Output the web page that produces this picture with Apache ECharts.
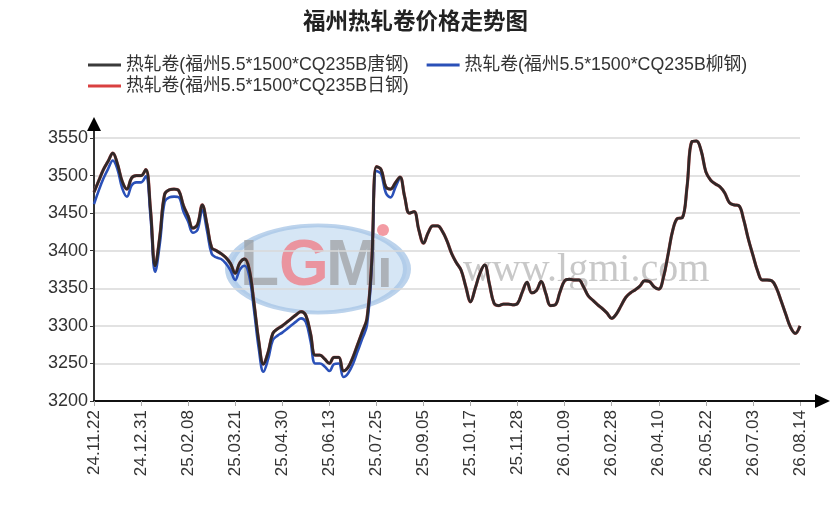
<!DOCTYPE html>
<html>
<head>
<meta charset="utf-8">
<title>福州热轧卷价格走势图</title>
<script src="https://cdn.jsdelivr.net/npm/echarts@6/dist/echarts.min.js"></script>
<style>
  html, body { margin: 0; padding: 0; background: #fff; }
  #main { width: 831px; height: 513px; }
</style>
</head>
<body>
<div id="main"></div>
<script>
// label dates on the x axis (one every 10 points)
const tickDates = ['24.11.22', '24.12.31', '25.02.08', '25.03.21', '25.04.30', '25.06.13', '25.07.25', '25.09.05',
  '25.10.17', '25.11.28', '26.01.09', '26.02.28', '26.04.10', '26.05.22', '26.07.03', '26.08.14'];
const stepsPerTick = 10;

// 热轧卷 唐钢 (black)
const tangSteel = [
  3478, 3493, 3508, 3519, 3530, 3515, 3492, 3482, 3497, 3500,
  3500, 3508, 3455, 3380, 3420, 3475, 3481, 3482, 3480, 3460,
  3446, 3430, 3435, 3461, 3435, 3404, 3400, 3396, 3391, 3383,
  3370, 3384, 3389, 3375, 3330, 3280, 3249, 3265, 3290, 3296,
  3300, 3305, 3310, 3315, 3319, 3314, 3290, 3261, 3261, 3256,
  3250, 3258, 3258, 3240, 3245, 3258, 3275, 3292, 3310, 3385,
  3512, 3508, 3485, 3482, 3490, 3498, 3472, 3450, 3452, 3428,
  3410, 3424, 3433, 3433, 3426, 3413, 3396, 3384, 3374, 3352,
  3332, 3350, 3370, 3381, 3356, 3330, 3327, 3329, 3329, 3328,
  3330, 3345, 3358, 3344, 3347, 3359, 3343, 3327, 3328, 3345,
  3360, 3362, 3361, 3361, 3352, 3340, 3334, 3328, 3323, 3317,
  3310, 3316, 3327, 3338, 3344, 3348, 3353, 3360, 3359, 3352,
  3349, 3365, 3396, 3428, 3443, 3444, 3485, 3545, 3546, 3533,
  3505, 3494, 3489, 3485, 3477, 3464, 3461, 3460, 3442, 3416,
  3394, 3373, 3361, 3361, 3360, 3350, 3333, 3315, 3298, 3290, 3300
];

// 热轧卷 柳钢 (blue), only visible until Aug 2025
const liuSteel = [
  3462, 3480, 3496, 3509, 3520, 3508, 3483, 3472, 3487, 3491,
  3491, 3499, 3446, 3372, 3410, 3465, 3471, 3472, 3471, 3452,
  3439, 3424, 3428, 3454, 3427, 3396, 3391, 3389, 3383, 3374,
  3361, 3375, 3380, 3366, 3321, 3270, 3239, 3256, 3281, 3287,
  3291, 3296, 3301, 3306, 3310, 3305, 3280, 3250, 3250, 3246,
  3240, 3249, 3250, 3232, 3237, 3249, 3266, 3283, 3301, 3378,
  3506, 3502, 3477, 3471, 3484, 3498
];

// 热轧卷 日钢 (red) sits right under the black line in the picture
const riSteel = tangSteel.slice();

const seriesNames = ['热轧卷(福州5.5*1500*CQ235B唐钢)', '热轧卷(福州5.5*1500*CQ235B柳钢)', '热轧卷(福州5.5*1500*CQ235B日钢)'];

// build the category list: label dates plus the days in between
function toDate(s) {
  var p = s.split('.');
  return new Date(2000 + (+p[0]), (+p[1]) - 1, +p[2]);
}
function fmt(d) {
  var y = String(d.getFullYear() % 100), m = String(d.getMonth() + 1), dd = String(d.getDate());
  return y + '.' + (m.length < 2 ? '0' + m : m) + '.' + (dd.length < 2 ? '0' + dd : dd);
}
var categories = [];
for (var i = 0; i < tickDates.length - 1; i++) {
  var a = toDate(tickDates[i]), b = toDate(tickDates[i + 1]);
  var span = (b - a) / 86400000;
  categories.push(tickDates[i]);
  for (var k = 1; k < stepsPerTick; k++) {
    var d = new Date(a.getTime());
    d.setDate(d.getDate() + Math.round(span * k / stepsPerTick));
    categories.push(fmt(d));
  }
}
categories.push(tickDates[tickDates.length - 1]);

var chart = echarts.init(document.getElementById('main'));
var latin = "'Liberation Sans', 'Noto Sans CJK SC', sans-serif";
var legendBase = {
  left: 83,
  icon: 'rect',
  itemWidth: 33,
  itemHeight: 3,
  itemGap: 18,
  textStyle: { fontSize: 17.8, color: '#333', fontFamily: latin }
};

var option = {
  backgroundColor: '#fff',
  animation: false,
  title: {
    text: '福州热轧卷价格走势图',
    left: 'center',
    top: 4,
    textStyle: { fontSize: 22.5, fontWeight: 'bold', color: '#222', fontFamily: "'Noto Sans CJK SC', sans-serif" }
  },
  legend: [
    Object.assign({ data: [seriesNames[0], seriesNames[1]], top: 51 }, legendBase),
    Object.assign({ data: [seriesNames[2]], top: 72 }, legendBase)
  ],
  grid: { left: 94, right: 31, top: 138, bottom: 112 },
  xAxis: {
    type: 'category',
    data: categories,
    boundaryGap: false,
    axisLine: { lineStyle: { color: '#111', width: 2 } },
    axisTick: { interval: stepsPerTick - 1, length: 5, lineStyle: { color: '#aaa' } },
    axisLabel: {
      interval: stepsPerTick - 1,
      rotate: 90,
      margin: 9,
      fontSize: 17,
      color: '#333',
      fontFamily: latin
    },
    splitLine: { show: false }
  },
  yAxis: {
    type: 'value',
    min: 3200,
    max: 3550,
    interval: 50,
    axisLine: { show: true, lineStyle: { color: '#333', width: 2 } },
    axisTick: { show: true, length: 4, lineStyle: { color: '#333' } },
    axisLabel: { fontSize: 18, color: '#333', margin: 6, fontFamily: latin, formatter: function (v) { return String(v); } },
    splitLine: { lineStyle: { color: '#d9d9d9', width: 1.5 } }
  },
  graphic: [
    // watermark
    { type: 'circle', x: 318, y: 269, scaleY: 0.49, shape: { cx: 0, cy: 0, r: 89 },
      style: { fill: 'rgba(200,221,242,0.75)', stroke: 'rgba(165,196,230,0.75)', lineWidth: 8 }, z: 0 },
    { type: 'text', x: 240, y: 267, z: 0, style: { text: 'L', fill: 'rgba(150,150,150,0.65)', font: "bold 64px 'Liberation Sans'", verticalAlign: 'middle' } },
    { type: 'text', x: 279, y: 267, z: 0, style: { text: 'G', fill: 'rgba(240,120,130,0.75)', font: "bold 64px 'Liberation Sans'", verticalAlign: 'middle' } },
    { type: 'text', x: 326, y: 267, z: 0, style: { text: 'M', fill: 'rgba(150,150,150,0.65)', font: "bold 64px 'Liberation Sans'", verticalAlign: 'middle' } },
    { type: 'text', x: 377, y: 272, z: 0, style: { text: 'ı', fill: 'rgba(150,150,150,0.65)', font: "bold 56px 'Liberation Sans'", verticalAlign: 'middle' } },
    { type: 'circle', shape: { cx: 383, cy: 230, r: 6 }, z: 0, style: { fill: 'rgba(240,130,140,0.8)' } },
    { type: 'text', x: 463, y: 270, z: 0, style: { text: 'www.lgmi.com', fill: 'rgba(190,190,190,0.85)', font: "40px 'Liberation Serif'", verticalAlign: 'middle' } },
    // axis arrows
    { type: 'line', shape: { x1: 94, y1: 138, x2: 94, y2: 128 }, style: { stroke: '#333', lineWidth: 2 }, z: 5 },
    { type: 'polygon', shape: { points: [[94, 117], [87, 131], [101, 131]] }, style: { fill: '#000' }, z: 5 },
    { type: 'line', shape: { x1: 800, y1: 401, x2: 816, y2: 401 }, style: { stroke: '#111', lineWidth: 2 }, z: 5 },
    { type: 'polygon', shape: { points: [[830, 401], [815, 394], [815, 408]] }, style: { fill: '#000' }, z: 5 }
  ],
  series: [{
    name: seriesNames[0],
    type: 'line',
    data: tangSteel,
    symbol: 'none',
    smooth: 0.4,
    z: 4,
    color: '#3a3a3a',
    lineStyle: { color: '#302828', width: 2.8 }
  }, {
    name: seriesNames[1],
    type: 'line',
    data: liuSteel,
    symbol: 'none',
    smooth: 0.4,
    z: 3,
    color: '#2a50b8',
    lineStyle: { color: '#2a50b8', width: 2.6 }
  }, {
    name: seriesNames[2],
    type: 'line',
    data: riSteel,
    symbol: 'none',
    smooth: 0.4,
    z: 2,
    color: '#d94040',
    lineStyle: { color: '#c86060', width: 3.2 }
  }]
};

chart.setOption(option);
</script>
</body>
</html>
